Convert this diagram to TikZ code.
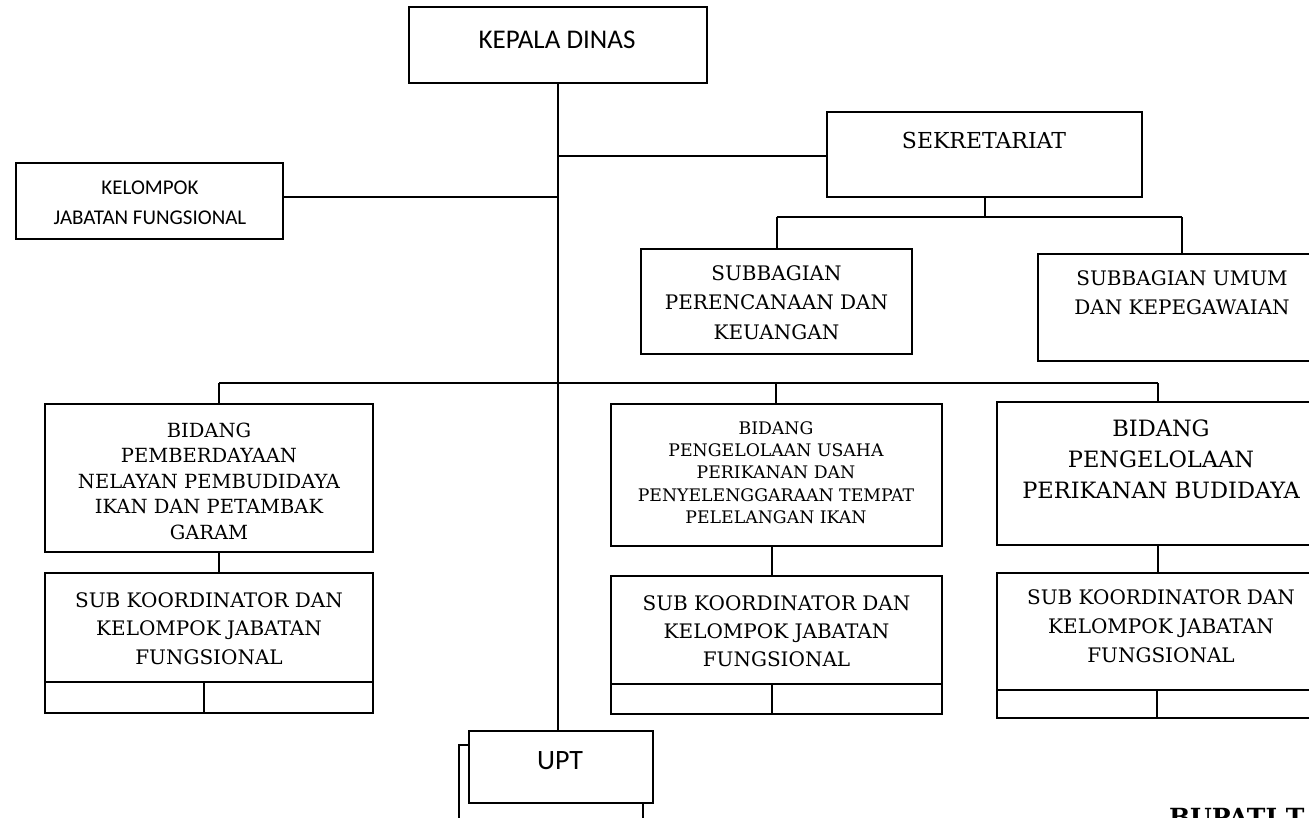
\documentclass[tikz,border=0pt]{standalone}
\usepackage{fontspec}
\setmainfont{DejaVu Serif}
\newfontfamily\carl{Carlito}
\begin{document}
\begin{tikzpicture}[x=1pt,y=-1pt,line width=2pt,
  box/.style={draw,rectangle,inner sep=0pt,line width=2pt,fill=white},
  txt/.style={inner sep=0pt,align=center},
  sansA/.style={font=\carl\fontsize{27}{32}\selectfont},
  sansB/.style={font=\carl\fontsize{21}{30}\selectfont},
  serA/.style={font=\fontsize{20}{29}\selectfont}]
\clip (0,0) rectangle (1309,817);
\fill[white] (0,0) rectangle (1309,817);

% junction coordinates
\coordinate (j1) at (557.5,156);
\coordinate (h1) at (219,383);
\coordinate (h2) at (776,383);
\coordinate (h3) at (1158,383);

% boxes
\node[box,minimum width=298pt,minimum height=76pt] (kd) at (557.5,45) {};
\node[txt,sansA] (kdt) at (557,40) {KEPALA DINAS};

\node[box,minimum width=315pt,minimum height=85pt] (sek) at (984.5,154.5) {};
\node[txt,font=\fontsize{22}{29}\selectfont] (sekt) at (984,140) {SEKRETARIAT};

\node[box,minimum width=267pt,minimum height=76pt] (kjf) at (149.5,201) {};
\node[txt,sansB] (kjft) at (150,203) {KELOMPOK\\JABATAN FUNGSIONAL};

\node[box,minimum width=271pt,minimum height=105pt] (spk) at (776.5,301.5) {};
\node[txt,font=\fontsize{20}{29.5}\selectfont] (spkt) at (776.5,302.5) {SUBBAGIAN\\PERENCANAAN DAN\\KEUANGAN};

\node[box,minimum width=288pt,minimum height=107pt] (sum) at (1182,307.5) {};
\node[txt,serA] (sumt) at (1182,292.5) {SUBBAGIAN UMUM\\DAN KEPEGAWAIAN};

% bidang 1
\node[box,minimum width=328pt,minimum height=148pt] (bp1) at (209,478) {};
\node[txt,font=\fontsize{19.5}{25.5}\selectfont] (bp1t) at (209,481) {BIDANG\\PEMBERDAYAAN\\NELAYAN PEMBUDIDAYA\\IKAN DAN PETAMBAK\\GARAM};
\node[box,minimum width=328pt,minimum height=140pt] (sk1) at (209,643) {};
\node[txt,font=\fontsize{20}{28.5}\selectfont] (sk1t) at (209,628.5) {SUB KOORDINATOR DAN\\KELOMPOK JABATAN\\FUNGSIONAL};
\draw (45,682) -- (373,682);
\draw (204,682) -- (204,713);

% bidang 2
\node[box,minimum width=331pt,minimum height=142pt] (bp2) at (776.5,475) {};
\node[txt,font=\fontsize{17.3}{22.25}\selectfont] (bp2t) at (776,472.5) {BIDANG\\PENGELOLAAN USAHA\\PERIKANAN DAN\\PENYELENGGARAAN TEMPAT\\PELELANGAN IKAN};
\node[box,minimum width=331pt,minimum height=138pt] (sk2) at (776.5,645) {};
\node[txt,font=\fontsize{20}{28}\selectfont] (sk2t) at (776.5,631) {SUB KOORDINATOR DAN\\KELOMPOK JABATAN\\FUNGSIONAL};
\draw (611,684) -- (942,684);
\draw (772,684) -- (772,714);

% bidang 3
\node[box,minimum width=328pt,minimum height=143pt] (bp3) at (1161,473.5) {};
\node[txt,font=\fontsize{22.5}{31}\selectfont] (bp3t) at (1161,459) {BIDANG\\PENGELOLAAN\\PERIKANAN BUDIDAYA};
\node[box,minimum width=328pt,minimum height=145pt] (sk3) at (1161,645.5) {};
\node[txt,font=\fontsize{20}{29}\selectfont] (sk3t) at (1161,626) {SUB KOORDINATOR DAN\\KELOMPOK JABATAN\\FUNGSIONAL};
\draw (997,690) -- (1325,690);
\draw (1157,690) -- (1157,718);

% UPT with shadow box
\node[draw,rectangle,inner sep=0pt,minimum width=184pt,minimum height=90pt] (upts) at (551,790) {};
\node[box,minimum width=184pt,minimum height=72pt] (upt) at (561,767) {};
\node[txt,font=\carl\fontsize{28}{32}\selectfont] (uptt) at (560,761) {UPT};

% connectors
\draw (kd.south) -- (kd.south |- upt.north);
\draw (j1) -- (j1 -| sek.west);
\draw ([yshift=4pt]kjf.east) -- ([yshift=4pt]kjf.east -| kd.south);
\draw (sek.south) -- ++(0,19) coordinate (sj);
\draw (spk.north |- sj) -- (sum.north |- sj);
\draw (spk.north |- sj) -- (spk.north);
\draw (sum.north |- sj) -- (sum.north);
\draw (h1) -- (h3);
\draw (h1) -- (h1 |- bp1.north);
\draw (h2) -- (h2 |- bp2.north);
\draw (h3) -- (h3 |- bp3.north);
\draw (219,552) coordinate (c1) -- (c1 |- sk1.north);
\draw (772,546) coordinate (c2) -- (c2 |- sk2.north);
\draw (1158,545) coordinate (c3) -- (c3 |- sk3.north);

% cut-off footer text
\node[anchor=base west,inner sep=0pt,font=\bfseries\fontsize{25}{30}\selectfont] (bup) at (1168,826) {BUPATI T};
\end{tikzpicture}
\end{document}
